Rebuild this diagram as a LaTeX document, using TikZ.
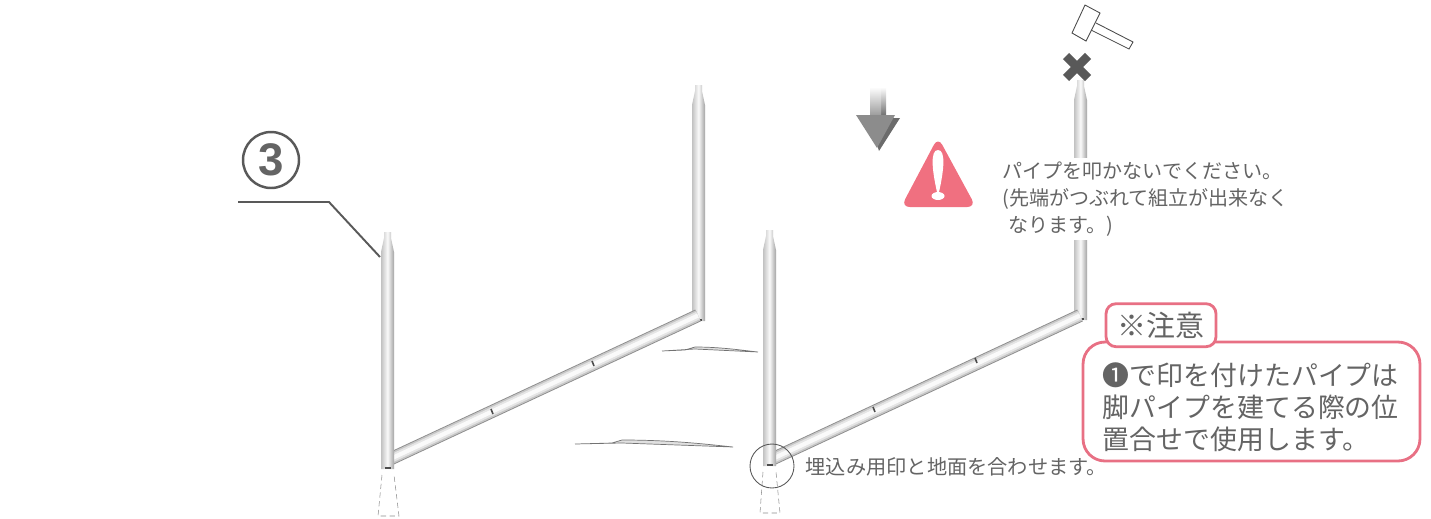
\documentclass[tikz,border=0pt]{standalone}
\usepackage{fontspec}
\setmainfont{Noto Sans CJK JP}
\newfontfamily\digitfont{Liberation Sans}
\usetikzlibrary{positioning}
\definecolor{inkgray}{RGB}{100,100,100}
\definecolor{notepink}{RGB}{232,112,132}
\definecolor{warnpink}{RGB}{240,112,128}
\tikzset{
  pipeshade/.style={left color=black!24,right color=black!36,middle color=black!2},
  hint/.style={text=inkgray,inner sep=0pt,align=left,font=\fontsize{11.4}{15.3}\selectfont},
  notebox/.style={draw=notepink,line width=1.6pt,rounded corners=0.44cm,fill=white,
    minimum width=6.74cm,minimum height=2.38cm},
  notetext/.style={text=inkgray,inner sep=0pt,align=left,font=\fontsize{15.3}{18.2}\selectfont},
  tagbox/.style={draw=notepink,line width=1.6pt,rounded corners=0.2cm,fill=white,text=inkgray,
    minimum width=2.2cm,minimum height=0.86cm,inner sep=0pt,font=\fontsize{16.5}{18}\selectfont},
  tick/.style={line width=0.9pt,black!70},
  hidden/.style={densely dashed,line width=0.3pt,black!45}
}
\newcommand{\legpipe}[3]{
  \begin{scope}[shift={(#1,0)}]
    \shade[pipeshade] (-3.5,#2) -- (-3.5,#2+6) -- (-6.5,#2+20) -- (-6.5,#3) -- (6.5,#3)
      -- (6.5,#2+20) -- (3.5,#2+6) -- (3.5,#2) -- cycle;
    \draw[line width=0.8pt,black!70] (-3,#3-1) -- (3,#3-1);
  \end{scope}
}
\newcommand{\crosspipe}[2]{
  \draw[line width=7.4pt,black!45] (#1) -- (#2);
  \draw[line width=6.4pt,black!22,yshift=0.02cm] (#1) -- (#2);
  \draw[line width=4.6pt,black!10] (#1) -- (#2);
  \draw[line width=2.4pt,black!2,yshift=-0.01cm] (#1) -- (#2);
}
\begin{document}
\begin{tikzpicture}[x=0.02cm,y=-0.02cm]
  \useasboundingbox (0,0) rectangle (1431,518);

  \coordinate (low1) at (388,460);
  \coordinate (high1) at (698,315.5);
  \coordinate (low2) at (770,460);
  \coordinate (high2) at (1080,315.5);

  \legpipe{698.5}{85}{321}
  \crosspipe{low1}{high1}
  \draw[tick] (491,409) -- (493,414);
  \draw[tick] (592,361) -- (594,366);
  \legpipe{387.5}{232}{469}

  \legpipe{1080.5}{80}{320}
  \crosspipe{low2}{high2}
  \draw[tick] (873,407) -- (875,412);
  \draw[tick] (975,358) -- (977,363);
  \legpipe{769.5}{230}{466}

  \draw[hidden] (382,475) -- (378,516) -- (399,516) -- (394,475);
  \draw[hidden] (763,472) -- (760,513) -- (780,513) -- (776,472);

  \draw[line width=0.4pt,black!55,fill=black!12] (662,351) -- (685,350) -- (695,347) .. controls (720,347) and (740,350) .. (758,352) -- (695,349) -- cycle;
  \draw[line width=0.4pt,black!55,fill=black!12] (575,444) -- (612,443) -- (622,440) .. controls (670,440) and (705,444) .. (733,447) -- (622,443) -- cycle;

  \node[draw=black!65,line width=1.4pt,circle,minimum size=1.12cm,inner sep=0pt,text=inkgray,
    font=\digitfont\bfseries\fontsize{26}{26}\selectfont] (num) at (271,160) {3};
  \coordinate (lead1) at (238,202);
  \coordinate (lead2) at (329,202);
  \coordinate (lead3) at (380,257);
  \draw[line width=1.1pt,black!65] (lead1) -- (lead2) -- (lead3);

  \shade[top color=white,bottom color=black!65] (880,87) rectangle (886,120);
  \fill[black!58] (868,118) -- (900,118) -- (879,151) -- cycle;
  \shade[top color=white,bottom color=black!40] (870,87) rectangle (881,116);
  \fill[black!45] (856,115) -- (895,115) -- (877,148) -- cycle;

  \fill[warnpink,rounded corners=5pt] (938,137) -- (976,207) -- (901,207) -- cycle;
  \fill[white] (938,150) .. controls (946,150) and (944,170) .. (939,192)
    -- (937,192) .. controls (932,170) and (930,150) .. (938,150) -- cycle;
  \fill[white] (938,196) ellipse (6.5 and 4);

  \draw[black!70,line width=0.5pt,fill=white] (1085,5) -- (1100,13) -- (1086,41) -- (1072,33) -- cycle;
  \draw[black!70,line width=0.5pt] (1096,23) -- (1133,42) -- (1129,49) -- (1091,30);
  \draw[black!65,line width=5pt] (1066,56) -- (1088,78);
  \draw[black!65,line width=5pt] (1088,56) -- (1066,78);

  \node[hint,fill=white,anchor=west,minimum height=1.66cm] (warntext) at (1002,199)
    {パイプを叩かないでください。\\(先端がつぶれて組立が出来なく\\\hspace{0.3em}なります。)};

  \node[notebox] (note) at (1251.5,401.5) {};
  \node[tagbox,above right=-0.15cm and 0.46cm of note.north west] (tag) {※注意};
  \node[notetext,right=0.42cm of note.west,yshift=-0.12cm] (notebody)
    {❶で印を付けたパイプは\\脚パイプを建てる際の位\\置合せで使用します。};

  \node[draw=black!65,line width=0.5pt,circle,minimum size=0.88cm,inner sep=0pt] (ring) at (772,466) {};
  \node[hint,right=0.22cm of ring,yshift=-0.02cm,font=\fontsize{11.5}{15.3}\selectfont] (groundtext) {埋込み用印と地面を合わせます。};
\end{tikzpicture}
\end{document}
